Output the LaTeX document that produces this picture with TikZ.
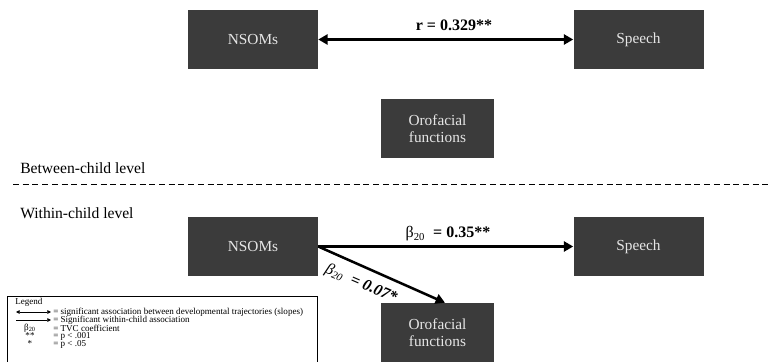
\documentclass[tikz,border=0pt]{standalone}
\usepackage{fontspec}
\setmainfont{Liberation Serif}
\usetikzlibrary{arrows.meta}
\definecolor{boxgray}{HTML}{3B3B3B}
\definecolor{boxtext}{HTML}{E6E6E6}
\tikzset{
  box/.style={fill=boxgray, text=boxtext, inner sep=0pt, align=center,
    minimum width=97.5pt, minimum height=44.25pt, font=\fontsize{11.5}{13}\selectfont},
  smallbox/.style={box, minimum width=84.75pt},
  bigarrow/.style={line width=1.9pt, -{Triangle[length=7pt,width=7.5pt]}},
  bigdarrow/.style={line width=1.9pt, {Triangle[length=7pt,width=7.5pt]}-{Triangle[length=7pt,width=7.5pt]}},
  lvl/.style={anchor=west, inner sep=0pt, font=\fontsize{11.7}{13}\selectfont},
  lbl/.style={inner sep=0pt, font=\fontsize{12}{13}\selectfont},
  lgd/.style={anchor=west, inner sep=0pt, font=\fontsize{6.8}{7.5}\selectfont},
  lgdc/.style={inner sep=0pt, font=\fontsize{6.8}{7.5}\selectfont},
  lgdarrow/.style={line width=0.6pt, -{Triangle[length=2.8pt,width=2.8pt]}},
  lgddarrow/.style={line width=0.6pt, {Triangle[length=2.8pt,width=2.8pt]}-{Triangle[length=2.8pt,width=2.8pt]}},
}
\begin{document}
\begin{tikzpicture}[x=0.75pt, y=-0.75pt]
\useasboundingbox (0,0) rectangle (768,361);
% between-child level
\node[box] (n1) at (253,39.5) {NSOMs};
\node[box] (s1) at (638.5,39.5) {Speech};
\node[smallbox] (o1) at (437.5,128.5) {Orofacial\\functions};
\draw[bigdarrow] (n1.east) -- (s1.west);
\node[lbl, font=\fontsize{12}{13}\selectfont\bfseries] (r1) at (454,25) {r = 0.329**};
% level labels
\node[lvl] (bl) at (20,168) {Between-child level};
\coordinate (dl) at (13,184);
\coordinate (dr) at (768,184);
\draw[line width=0.75pt, dash pattern=on 4.5pt off 2.8pt] (dl) -- (dr);
\node[lvl] (wl) at (20,213) {Within-child level};
% within-child level
\node[box] (n2) at (253,246.5) {NSOMs};
\node[box] (s2) at (638.5,246.5) {Speech};
\node[smallbox] (o2) at (437.5,332.5) {Orofacial\\functions};
\draw[bigarrow] (n2.east) -- (s2.west);
\node[lbl] (b1) at (448,234) {β\textsubscript{20}~~\textbf{= 0.35**}};
\draw[bigarrow] (n2.east) -- ([xshift=5.6pt]o2.north);
\node[lbl, font=\fontsize{12}{13}\selectfont\itshape, rotate=-23.6] (b2) at (361,284) {β\textsubscript{20}~~\textbf{= 0.07*}};
% legend
\coordinate (la) at (7,362);
\coordinate (lb) at (7,296);
\coordinate (lc) at (317,296);
\coordinate (ld) at (317,362);
\draw[line width=0.6pt] (la) -- (lb) -- (lc) -- (ld);
\node[lgd] (lt) at (15,302) {Legend};
\coordinate (a1) at (16,312);
\coordinate (a2) at (51,312);
\draw[lgddarrow] (a1) -- (a2);
\node[lgd] (l1) at (53,312) {= significant association between developmental trajectories (slopes)};
\coordinate (a3) at (16,320);
\coordinate (a4) at (51,320);
\draw[lgdarrow] (a3) -- (a4);
\node[lgd] (l2) at (53,320) {= Significant within-child association};
\node[lgdc] (k3) at (30,328) {β\textsubscript{20}};
\node[lgd] (l3) at (53,328) {= TVC coefficient};
\node[lgdc] (k4) at (30,336) {**};
\node[lgd] (l4) at (53,336) {= p < .001};
\node[lgdc] (k5) at (30,344) {*};
\node[lgd] (l5) at (53,344) {= p < .05};
\end{tikzpicture}
\end{document}
